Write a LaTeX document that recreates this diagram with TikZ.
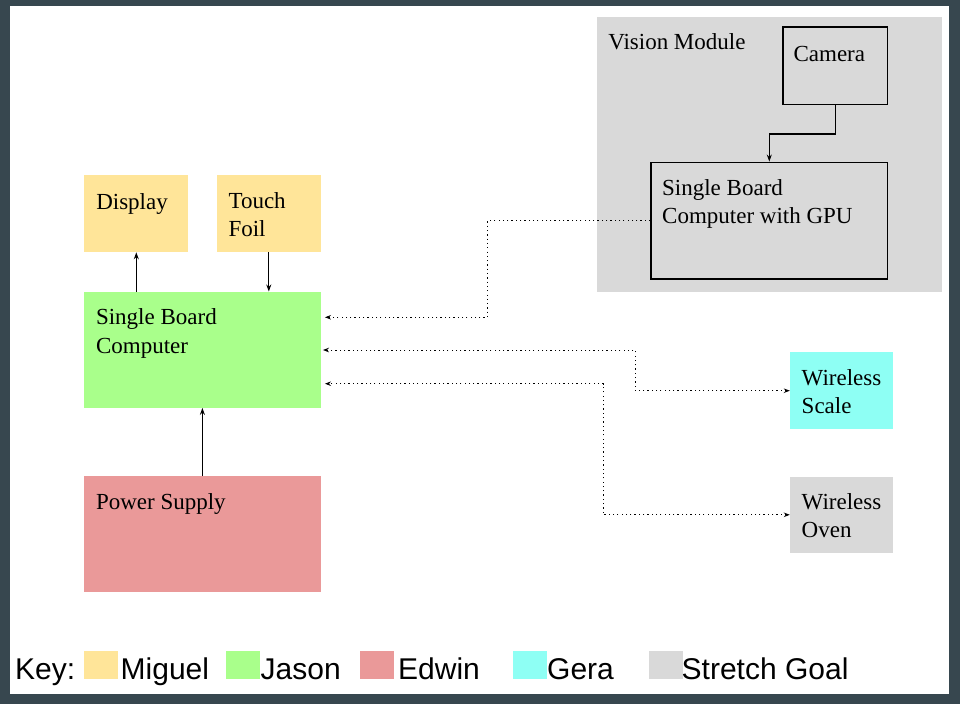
\documentclass[tikz,border=0pt]{standalone}
\usepackage{fontspec}
\setmainfont{Liberation Serif}
\newfontfamily\keyfont{Liberation Sans}
\usepackage{tikz}
\usetikzlibrary{calc, arrows.meta}
\usepackage{xcolor}
\definecolor{miguel}{HTML}{FFE599}
\definecolor{jason}{HTML}{A9FF8B}
\definecolor{edwin}{HTML}{EA9999}
\definecolor{gera}{HTML}{8EFFF4}
\definecolor{stretch}{HTML}{D9D9D9}
\definecolor{slate}{HTML}{37474F}
\tikzstyle{arrow} = [line width=1.2pt,->,>={Stealth[length=7pt,width=5pt]}]
\tikzstyle{link} = [line width=1pt,dash pattern=on 1.2pt off 3.1pt,>={Stealth[length=6pt,width=4.5pt]}]

\begin{document}
\begin{tikzpicture}[x=1pt, y=-1pt,
		block/.style={
			rectangle,
			inner sep=0pt,
			minimum width=104pt,
			minimum height=77pt},
		wide/.style={
			block,
			minimum width=236.7pt,
			minimum height=116pt},
		outlined/.style={
			draw=black,
			line width=1.4pt},
		txt/.style={
			anchor=base west,
			inner sep=0pt,
			align=left,
			font=\fontsize{23}{28.5}\selectfont},
		keytxt/.style={
			anchor=base west,
			inner sep=0pt,
			font=\keyfont\fontsize{30}{34}\selectfont},
		swatch/.style={
			rectangle,
			inner sep=0pt,
			minimum width=34pt,
			minimum height=28pt}]
		\useasboundingbox (0,0) rectangle (960,704);
		\fill [slate] (0,0) rectangle (960,704);
		\fill [white] (10,6) rectangle (949,694);

		% vision module
		\node (vision) [block, fill=stretch, minimum width=345pt, minimum height=275pt] at (769.5,154.7) {};
		\node (cam) [block, outlined, minimum width=104.5pt, minimum height=77.3pt] at (835.3,65.6) {};
		\node (gpu) [wide, outlined, minimum height=116.7pt] at (769.3,220.6) {};
		\node (vision-t) [txt] at ($(vision.north west)+(11.3,32.7)$) {Vision Module};
		\node (cam-t) [txt] at ($(cam.north west)+(11,35)$) {Camera};
		% base of the last line
		\node (gpu-t) [txt] at ($(gpu.north west)+(11.7,62)$) {Single Board\\Computer with GPU};

		% main board
		\node (disp) [block, fill=miguel] at (136.3,213.6) {};
		\node (touch) [block, fill=miguel, minimum width=103.7pt] at (268.8,213.6) {};
		\node (sbc) [wide, fill=jason] at (202.4,349.7) {};
		\node (psu) [wide, fill=edwin] at (202.4,534.2) {};
		\node (scale) [block, fill=gera, minimum width=103pt, minimum height=76.7pt] at (841.5,390.7) {};
		\node (oven) [block, fill=stretch, minimum width=103pt, minimum height=76.3pt] at (841.5,514.8) {};
		\node (disp-t) [txt] at ($(disp.north west)+(12,34.3)$) {Display};
		\node (touch-t) [txt] at ($(touch.north west)+(11.6,61.7)$) {Touch\\Foil};
		\node (sbc-t) [txt] at ($(sbc.north west)+(12,61.6)$) {Single Board\\Computer};
		\node (psu-t) [txt] at ($(psu.north west)+(12,33.3)$) {Power Supply};
		\node (scale-t) [txt] at ($(scale.north west)+(11.7,61.5)$) {Wireless\\Scale};
		\node (oven-t) [txt] at ($(oven.north west)+(11.7,61.5)$) {Wireless\\Oven};

		\draw [arrow] (disp.south |- sbc.north) -- (disp.south);
		\draw [arrow] (touch.south) -- (touch.south |- sbc.north);
		\draw [arrow] (psu.north) -- (sbc.south);
		\draw [arrow] (cam.south) -- ++(0,29) -| (gpu.north);

		\coordinate (sbcA) at ($(sbc.east)+(4,-32.4)$);
		\coordinate (sbcB) at ($(sbc.east)+(2,0.3)$);
		\coordinate (sbcC) at ($(sbc.east)+(4,34)$);
		\draw [link, ->] (gpu.west) -| ($(sbcA)+(162.7,0)$) -- (sbcA);
		\draw [link, <->] (scale.west) -| ($(sbcB)+(312.3,0)$) -- (sbcB);
		\draw [link, <->] (oven.west) -| ($(sbcC)+(278.3,0)$) -- (sbcC);

		% key
		\node (key) [keytxt] at (15,679.3) {Key:};
		\node (sw1) [swatch, fill=miguel] at (101,665.2) {};
		\node (sw2) [swatch, fill=jason] at (243.3,665.2) {};
		\node (sw3) [swatch, fill=edwin] at (377,665.2) {};
		\node (sw4) [swatch, fill=gera] at (530,665.2) {};
		\node (sw5) [swatch, fill=stretch] at (665.5,665.2) {};
		\node (k1) [keytxt] at (120.5,679.3) {Miguel};
		\node (k2) [keytxt] at (260.5,679.3) {Jason};
		\node (k3) [keytxt] at (398,679.3) {Edwin};
		\node (k4) [keytxt] at (547,679.3) {Gera};
		\node (k5) [keytxt] at (681.5,679.3) {Stretch Goal};

	\end{tikzpicture}
\end{document}
